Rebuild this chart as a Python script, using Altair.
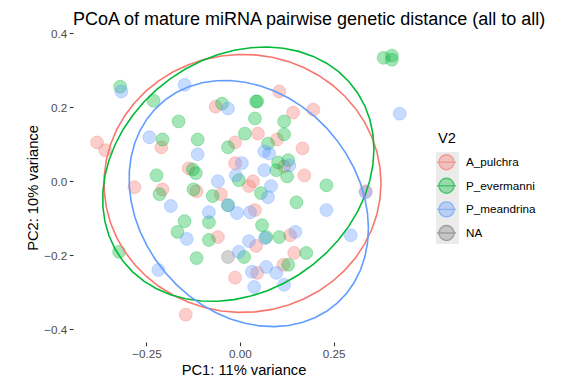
import altair as alt
import numpy as np
import pandas as pd

# ---------------- data ----------------
groups = ["A_pulchra", "P_evermanni", "P_meandrina", "NA"]
line_colors = ["#F8766D", "#00BA38", "#619CFF", "#7F7F7F"]
fill_colors = ["rgba(248,118,109,0.5)", "rgba(0,186,56,0.5)",
               "rgba(97,156,255,0.5)", "rgba(127,127,127,0.5)"]
key_slots = ["k1", "k2", "k3", "k4"]

pulchra_x = [-0.382, -0.360, -0.210, -0.065, -0.013, -0.013, -0.282, -0.207,
             -0.116, -0.051, -0.059, -0.013, -0.145, 0.105, 0.142, 0.196,
             0.048, 0.099, 0.167, 0.172, 0.035, 0.024, 0.040, 0.134,
             0.043, 0.145, 0.116, 0.046, -0.137, 0.336, 0.118]
pulchra_y = [0.105, 0.084, 0.092, 0.202, 0.105, 0.049, -0.016, -0.022,
             -0.027, -0.035, -0.151, -0.261, -0.361, 0.243, 0.186, 0.194,
             0.129, 0.113, 0.089, 0.016, 0.000, -0.013, -0.078, -0.146,
             -0.175, -0.194, -0.226, -0.248, 0.035, -0.027, 0.040]

evermanni_x = [-0.320, -0.231, -0.164, -0.048, 0.043, 0.046, 0.040, -0.207,
               -0.113, -0.032, 0.013, -0.126, -0.118, -0.223, -0.003, 0.118,
               0.118, 0.075, 0.102, 0.129, 0.097, 0.126, 0.056, 0.231,
               -0.124, -0.215, -0.073, -0.032, -0.148, -0.083, -0.167, -0.083,
               -0.116, -0.323, 0.011, 0.151, 0.059, 0.070, 0.105, 0.177,
               0.129, 0.384, 0.406, 0.406]
evermanni_y = [0.256, 0.218, 0.162, 0.210, 0.216, 0.216, 0.170, 0.113,
               0.113, 0.092, 0.129, 0.032, 0.022, 0.016, 0.003, 0.162,
               0.127, 0.102, 0.051, 0.057, 0.030, 0.013, -0.032, -0.011,
               -0.022, -0.035, -0.040, -0.065, -0.108, -0.111, -0.137, -0.159,
               -0.208, -0.191, -0.205, -0.057, -0.119, -0.151, -0.151, -0.194,
               -0.226, 0.334, 0.340, 0.329]

meandrina_x = [-0.317, -0.148, -0.032, -0.242, -0.113, 0.005, -0.059, -0.011,
               0.065, 0.078, 0.132, 0.065, 0.083, 0.075, 0.427, 0.231,
               -0.185, -0.032, -0.083, -0.008, 0.027, 0.067, 0.148, -0.142,
               0.024, -0.003, -0.218, 0.070, 0.032, 0.097, 0.038, 0.118,
               0.296, 0.336]
meandrina_y = [0.243, 0.261, 0.197, 0.119, 0.073, 0.049, 0.000, 0.016,
               0.081, 0.075, 0.043, 0.030, -0.013, -0.043, 0.183, -0.078,
               -0.067, -0.065, -0.084, -0.086, -0.084, -0.154, -0.137, -0.156,
               -0.162, -0.191, -0.240, -0.232, -0.245, -0.248, -0.286, -0.280,
               -0.146, -0.030]

na_x = [-0.032]
na_y = [-0.205]

x_major = [-0.25, 0.0, 0.25]
x_minor = [-0.375, -0.125, 0.125, 0.375]
y_major = [-0.4, -0.2, 0.0, 0.2, 0.4]
y_minor = [-0.3, -0.1, 0.1, 0.3]
x_domain = [-0.4462, 0.4651]
y_domain = [-0.435, 0.4012]

series = {
    "A_pulchra": (pulchra_x, pulchra_y),
    "P_evermanni": (evermanni_x, evermanni_y),
    "P_meandrina": (meandrina_x, meandrina_y),
    "NA": (na_x, na_y),
}

pts = pd.DataFrame(
    [{"V2": g, "x": xv, "y": yv}
     for g, (xs, ys) in series.items() for xv, yv in zip(xs, ys)]
)


# ---------------- 95% t ellipses (as ggplot2::stat_ellipse) ----------------
def cov_trob(X, nu=5, maxit=25, tol=0.01):
    n, p = X.shape
    wt = np.ones(n)
    loc = X.mean(axis=0)
    w = np.sqrt(wt)
    Xc = X - loc
    for _ in range(maxit):
        w0 = w
        Xc = X - loc
        s = np.sqrt(w / w.sum())[:, None] * Xc
        _, d, vt = np.linalg.svd(s, full_matrices=False)
        wX = Xc @ vt.T @ np.diag(1.0 / d)
        Q = (wX ** 2).sum(axis=1)
        w = wt * (nu + p) / (nu + Q)
        loc = (w[:, None] * X).sum(axis=0) / w.sum()
        if np.all(np.abs(w - w0) < tol):
            break
    sw = np.sqrt(w)[:, None] * Xc
    return loc, sw.T @ sw / wt.sum()


rows = []
for g, (xs, ys) in series.items():
    if len(xs) < 3:
        continue
    X = np.column_stack([xs, ys])
    center, shape = cov_trob(X)
    dfd = len(xs) - 1
    fq = (dfd / 2.0) * (0.05 ** (-2.0 / dfd) - 1.0)
    radius = np.sqrt(2.0 * fq)
    R = np.linalg.cholesky(shape).T
    ang = np.arange(52) * 2 * np.pi / 51
    circ = np.column_stack([np.cos(ang), np.sin(ang)])
    ell = center + radius * (circ @ R)
    for i, (ex, ey) in enumerate(ell):
        rows.append({"V2": g, "x": ex, "y": ey, "o": i})
ell_df = pd.DataFrame(rows)

# ---------------- chart ----------------
x_enc = alt.X("x:Q", scale=alt.Scale(domain=x_domain, nice=False, zero=False),
              axis=alt.Axis(values=x_major, format=".2f", title="PC1: 11% variance"))
y_enc = alt.Y("y:Q", scale=alt.Scale(domain=y_domain, nice=False, zero=False),
              axis=alt.Axis(values=y_major, format=".1f", title="PC2: 10% variance"))

legend = alt.Legend(
    title="V2", orient="none", legendX=365, legendY=98,
    symbolType="M-1,0A1,1,0,1,1,1,0A1,1,0,1,1,-1,0M-1.27,0L1.27,0",
    symbolSize=225, symbolStrokeWidth=1.4, labelOffset=11, rowPadding=2.6,
    titlePadding=8, padding=0, labelFontSize=11.7, labelColor="black",
    titleFontSize=14.7, titleFontWeight="normal", titleColor="black",
    labelFont="Liberation Sans", titleFont="Liberation Sans",
)

# grey key boxes behind the legend symbols (ggplot legend.key)
key_legend = alt.Legend(
    title=None, orient="none", legendX=363, legendY=119,
    symbolType="square", symbolSize=529, symbolStrokeWidth=0,
    symbolOpacity=1, rowPadding=0, padding=0, labelExpr="''",
    labelFontSize=1, labelOffset=0,
)

fill_enc = alt.Fill("V2:N", scale=alt.Scale(domain=groups, range=fill_colors), legend=legend)
stroke_enc = alt.Stroke("V2:N", scale=alt.Scale(domain=groups, range=line_colors), legend=legend)

vgrid = alt.Chart(pd.DataFrame({"x": x_minor})).mark_rule(
    color="white", strokeWidth=0.55).encode(x=x_enc)
hgrid = alt.Chart(pd.DataFrame({"y": y_minor})).mark_rule(
    color="white", strokeWidth=0.55).encode(y=y_enc)

keys = alt.Chart(pd.DataFrame({"k": key_slots})).transform_filter(
    "false").mark_square(size=529, opacity=1).encode(
    color=alt.Color("k:N", scale=alt.Scale(domain=key_slots,
                                            range=["#EBEBEB"] * 4),
                    legend=key_legend))

points = alt.Chart(pts).mark_point(
    filled=True, size=165, strokeWidth=1, strokeOpacity=0.5
).encode(x=x_enc, y=y_enc, fill=fill_enc, stroke=stroke_enc)

ellipses = alt.Chart(ell_df).mark_line(strokeWidth=1.6).encode(
    x=x_enc, y=y_enc, stroke=stroke_enc, detail="V2:N", order="o:Q")

chart = alt.layer(vgrid, hgrid, keys, points, ellipses).properties(
    width=341, height=309,
    autosize=alt.AutoSizeParams(type="none"),
    padding={"left": 65, "top": 25, "right": 154, "bottom": 40},
    title=alt.Title(
        "PCoA of mature miRNA pairwise genetic distance (all to all)",
        anchor="start", frame="group", fontSize=18, fontWeight="normal",
        font="Liberation Sans", color="black", offset=-1,
    ),
).configure(background="white").configure_view(
    fill="#EBEBEB", stroke=None
).configure_axis(
    grid=True, gridColor="white", gridWidth=1.1, domain=False,
    labelFont="Liberation Sans", labelFontSize=11.7, labelColor="#4D4D4D",
    tickColor="#333333", tickSize=3.7, tickWidth=1.07, labelPadding=2.5,
    titleFont="Liberation Sans", titleFontSize=14.7, titleFontWeight="normal",
    titleColor="black", titlePadding=3,
)

chart.save("out.html", embed_options={"renderer": "svg", "actions": False})
